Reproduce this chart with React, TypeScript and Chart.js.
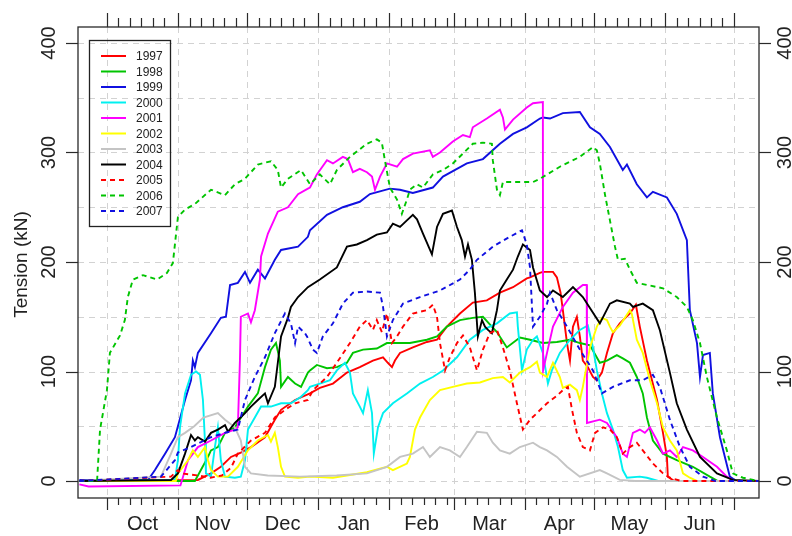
import React, { useEffect, useRef } from "react";
import { Chart, registerables } from "chart.js";

Chart.register(...registerables);

// x = days since 1 Oct, y = tension (kN)
const MONTH_STARTS = [0, 31, 61, 92, 123, 151, 182, 212, 243, 273];
const MONTH_LABELS = ["Oct", "Nov", "Dec", "Jan", "Feb", "Mar", "Apr", "May", "Jun"];
const Y_TICKS = [0, 100, 200, 300, 400];
const Y_GRID = [0, 50, 100, 150, 200, 250, 300, 350, 400];
const YEARS = ["1997", "1998", "1999", "2000", "2001", "2002", "2003", "2004", "2005", "2006", "2007"];

const s1997 = [[-12,0],[39.6,1],[45.3,7],[49.6,13],[54,22],[58.3,26],[62.7,31],[68.8,40],[73.1,56],[75.8,65],[81.9,74],[88.4,80],[92.7,85],[98.4,89],[104.5,99],[110.1,104],[115.8,110],[120.2,113],[122.3,108],[124.1,104],[125.4,110],[127.6,117],[133.2,122],[139.3,127],[143.7,129],[148,141],[153.7,153],[159.3,163],[165.4,165],[171.1,172],[176.8,177],[182.8,185],[184.2,186],[188.5,190],[189.8,191],[194.2,191],[195.9,186],[197.5,172],[198.5,156],[200.3,126],[201.6,110],[202.9,141],[204.6,150],[205.9,132],[207.2,110],[209.4,104],[211.6,95],[213.3,92],[215.5,99],[217.7,117],[220.3,135],[223.3,144],[227.7,153],[230.3,161],[232,141],[235.1,110],[239.5,74],[242.1,44],[243.8,22],[244.2,4],[247,0],[284,0]];
const s1998 = [[-12,0],[38.3,0],[40.9,10],[44,22],[45.3,28],[48.3,31],[51.4,44],[55.7,49],[61.4,68],[65.7,80],[68.8,104],[71.4,120],[73.6,126],[75.3,110],[75.8,86],[78.8,95],[81.9,89],[84.5,86],[87.5,99],[88.4,101],[91.4,106],[95.8,103],[100.1,104],[104.5,108],[107.1,117],[111.5,120],[117.5,121],[121.9,126],[131.9,126],[139.3,129],[143.7,132],[148,141],[153.7,147],[159.3,149],[163.7,150],[167.6,141],[169.8,136],[174.1,122],[179.8,131],[184.2,129],[189.8,126],[195.9,127],[201.6,129],[205.9,126],[210.3,124],[214.6,108],[217.7,110],[222,115],[224.6,112],[227.7,108],[230.7,95],[233.3,80],[235.1,58],[237.7,37],[242.1,25],[248.1,19],[255.1,13],[262.5,4],[266,0],[284,0]];
const s1999 = [[-12,1],[17.9,1],[20.9,10],[25.3,25],[29.6,40],[34,74],[36.6,92],[37.4,110],[38.3,104],[39.6,117],[45.3,135],[49.6,149],[51.8,150],[53.6,179],[57,181],[60.1,191],[62.3,181],[65.7,193],[68.8,185],[73.1,202],[75.8,211],[83.2,214],[87.5,223],[88.4,229],[95.8,243],[102.7,250],[110.1,255],[114.5,262],[123.2,267],[127.6,266],[133.2,263],[141.9,268],[146.3,278],[156.7,290],[163.7,294],[171.1,308],[176.8,317],[182.8,323],[188.5,331],[189.8,332],[192.9,331],[198.5,336],[205.9,337],[210.3,323],[214.6,317],[219,305],[224.6,284],[226.4,289],[230.7,271],[235.1,259],[237.7,264],[243.8,259],[248.1,244],[252.5,220],[253,195],[253.8,156],[256.9,126],[258.2,95],[259.5,115],[262.5,117],[263.8,80],[266.9,40],[271.2,4],[274,0],[284,0]];
const s2000 = [[-12,0],[29.6,1],[30.9,19],[31.8,49],[34,80],[36.6,97],[38.8,100],[40.5,97],[41.8,74],[42.7,35],[43.1,7],[45.3,4],[47,31],[48.3,49],[49.6,19],[51.4,4],[55.7,3],[58.3,4],[60.1,19],[61.4,47],[64.4,58],[67.1,68],[71.4,68],[75.8,71],[80.1,71],[84.5,77],[87.5,83],[88.4,86],[92.7,89],[97.1,92],[100.1,101],[103.6,108],[105.8,99],[107.1,80],[110.1,68],[111.5,62],[113.6,83],[115.4,62],[116.2,25],[118,49],[120.2,62],[124.5,71],[130.6,80],[136.3,89],[141.9,95],[146.3,101],[152.4,113],[158,129],[163.7,138],[169.8,144],[175.4,153],[178.5,154],[178.9,141],[180.7,101],[182.8,120],[185.5,129],[187.2,132],[189.8,117],[192,89],[193.7,101],[197.2,117],[201.6,129],[205.9,138],[209.4,142],[211.6,122],[213.3,101],[215.5,80],[217.7,62],[220.3,47],[222.5,31],[224.6,10],[226.4,3],[232,4],[235.1,3],[240,0],[284,0]];
const s2001 = [[-12,-3],[-8,-5],[32,-4],[35.3,19],[39.6,31],[45.3,37],[51.4,44],[55.7,47],[57,49],[57.9,110],[58.3,150],[61.4,153],[62.7,145],[64.4,156],[66.6,184],[67.1,205],[70.1,226],[74.4,246],[78.8,250],[83.2,262],[87.5,267],[88.4,268],[91.4,280],[95.8,293],[98.4,290],[102.7,296],[104.9,294],[107.1,282],[110.1,285],[113.2,282],[115.4,278],[116.7,266],[118.9,278],[121.9,290],[126.3,287],[128.9,294],[133.2,299],[140.6,302],[141.9,296],[145,300],[150.6,310],[155,316],[158,314],[159.3,323],[165.4,331],[171.1,339],[172.4,332],[173.3,321],[176.8,330],[182.8,341],[185.5,345],[189.8,346],[189.9,101],[191.6,117],[194.2,141],[198.5,159],[202.9,172],[207.2,179],[208.9,179],[209,53],[214.6,56],[217.7,53],[222,40],[224.6,25],[226.4,22],[229,44],[232,47],[234.2,44],[236.4,49],[239.5,37],[242.1,25],[245.1,28],[248.1,22],[250.8,31],[255.1,28],[259.5,22],[265.6,13],[269.9,4],[273,0],[284,0]];
const s2002 = [[-12,0],[30,0],[30.9,7],[35.3,19],[37.4,28],[39.6,22],[42.7,31],[44,19],[45.3,10],[48.3,4],[52.7,4],[57,13],[61.4,28],[65.7,37],[70.1,42],[71.4,36],[73.1,44],[74.4,31],[75.8,13],[77.5,4],[83.2,3],[88.4,4],[98.4,3],[113.2,8],[121.9,13],[124.5,10],[130.6,16],[131.9,22],[134.1,47],[136.3,58],[140.6,74],[145,83],[150.6,86],[156.7,89],[162.4,90],[168,94],[172.4,95],[175.4,90],[179.8,99],[184.2,104],[187.2,109],[188.5,99],[191.6,95],[194.2,108],[197.2,95],[198.5,85],[201.6,88],[204.6,83],[205.9,74],[207.2,86],[210.3,122],[213.3,141],[215.5,149],[217.7,147],[219,141],[220.3,136],[223.3,142],[227.7,156],[228.5,153],[230.7,129],[233.3,117],[236.4,92],[239.5,71],[242.1,49],[245.1,37],[248.1,28],[250.8,7],[253.8,3],[257,0],[284,0]];
const s2003 = [[-12,0],[23.5,4],[27.9,25],[30.9,40],[34,44],[38,50],[42,58],[48.3,62],[51.4,56],[55.7,49],[58.3,37],[60.1,13],[62.7,7],[70,5],[84,4],[100,5],[113.2,7],[121.9,13],[127.6,22],[133.2,25],[137.6,31],[140.6,22],[145,31],[149.3,28],[153.7,22],[156.7,31],[161.1,45],[165.4,44],[168,35],[171.1,28],[175.4,25],[179.8,31],[185.5,35],[188.5,31],[191.6,28],[195.9,22],[200.3,13],[205.9,4],[214.6,10],[217.7,7],[223.3,1],[230,0],[284,0]];
const s2004 = [[-12,0],[27.9,1],[30.9,7],[34,25],[36.6,42],[38.3,37],[39.6,40],[42.7,36],[45.3,44],[48.3,47],[51.4,51],[52.7,45],[55.7,53],[60.1,62],[62.7,68],[65.7,74],[68.8,80],[70.1,71],[73.1,86],[74.4,108],[75.8,132],[78.8,149],[80.1,159],[83.2,168],[87.5,177],[92.7,184],[100.1,195],[104.5,214],[108.8,216],[113.2,220],[117.5,225],[121.9,227],[124.5,235],[127.6,232],[130.6,238],[133.2,243],[135,239],[137.6,226],[141.5,207],[143.7,232],[146.3,244],[150.2,247],[152.4,232],[154.5,220],[155.9,205],[157.2,216],[158.9,202],[160.2,172],[161.5,132],[163.3,147],[164.6,141],[165.9,138],[167.6,135],[169.8,156],[171.1,174],[174.1,184],[176.8,193],[178.9,205],[181.1,216],[184.2,211],[185.5,195],[188.5,174],[191.6,168],[194.2,174],[198.5,168],[202.9,177],[207.2,168],[214.6,144],[219,162],[222,165],[227.7,162],[229,159],[233.3,162],[237.7,156],[240.7,138],[245.1,99],[248.1,71],[252.5,47],[258.2,22],[265.6,7],[272.5,1],[284,0]];
const s2005 = [[-12,0],[27.9,4],[30.9,10],[32.2,7],[40,5],[45,3],[50,5],[54,12],[57,25],[62.7,37],[68.8,44],[73.1,58],[77.5,65],[81.9,71],[87.5,74],[89.7,83],[95.8,95],[100.1,108],[105.8,126],[110.1,141],[113.2,147],[115.8,138],[117.5,147],[119.7,136],[121.9,153],[124.1,126],[126.3,132],[128.9,141],[133.2,153],[139.3,156],[141.9,161],[143.7,150],[145,126],[147.2,101],[149.3,113],[152.4,126],[155,133],[158,122],[161.1,101],[163.7,120],[166.7,135],[169.8,138],[172.4,122],[175.4,101],[178.5,71],[181.1,47],[184.2,56],[187.2,62],[191.6,71],[196,78],[198.5,83],[200.7,86],[202.5,65],[204.6,44],[207.2,31],[210.3,28],[212.5,44],[216,49],[219,47],[222,40],[224.6,25],[227.7,31],[230.7,35],[233.3,28],[237.7,16],[242.1,7],[245.1,3],[250,0],[284,0]];
const s2006 = [[-12,0],[-4.3,0],[-3,47],[0,83],[1.3,117],[5.7,133],[7.8,147],[9.1,168],[11.3,184],[15.7,188],[21.8,184],[26.1,190],[28.7,199],[30.9,241],[34,248],[38.3,253],[45.3,266],[51.4,261],[55.7,271],[60.1,276],[65.7,289],[71.4,292],[74.4,284],[75.8,268],[78.8,276],[84.5,284],[88.4,271],[92.7,280],[97.1,271],[100.1,284],[105.8,296],[113.2,308],[117.5,312],[119.7,309],[121,293],[123.2,268],[126.3,257],[128.4,244],[130.6,257],[131.9,266],[135,271],[137.6,268],[141.9,280],[146.3,284],[150.6,290],[155,299],[159.3,308],[163.7,309],[167.6,308],[168,293],[169.8,266],[171.1,261],[172.4,273],[179.8,273],[185.5,273],[188.5,276],[197.2,287],[205.9,296],[211.6,305],[213.3,302],[214.6,290],[216.8,262],[219,238],[221.2,214],[222.5,202],[225.5,203],[227.7,193],[230.7,181],[242.1,176],[248.1,168],[252.5,159],[255.1,147],[258.2,126],[261.2,95],[265.6,58],[269.9,28],[272.5,7],[276.9,3],[284,0]];
const s2007 = [[-12,0],[23.5,4],[29.6,19],[30.9,26],[36.6,31],[45.3,40],[51.4,44],[57,47],[60.1,74],[64.4,95],[68.8,113],[73.1,135],[77.5,153],[80.1,144],[81.9,126],[83.2,141],[86.2,135],[87.1,132],[89.7,120],[91.4,117],[94,132],[98.4,144],[102.7,162],[107.1,172],[113.2,173],[118.9,172],[120.2,159],[121.9,132],[124.5,147],[128.9,162],[136.3,168],[145,174],[153.7,184],[158,193],[161.1,202],[168,214],[175.4,223],[180.7,229],[182.8,216],[184.2,195],[185.5,141],[188.5,150],[191.6,162],[192.9,172],[195.9,156],[200.3,141],[205.9,120],[211.6,101],[215.5,80],[220.3,86],[227.7,92],[233.3,92],[237.7,97],[240.7,86],[245.1,56],[249.5,31],[253.8,13],[259.5,4],[265,0],[284,0]];

const SERIES = [s1997, s1998, s1999, s2000, s2001, s2002, s2003, s2004, s2005, s2006, s2007];
const COLORS = ["#ff0000", "#00c400", "#1010e0", "#00f0f0", "#ff00ff", "#ffff00", "#c4c4c4", "#000000", "#ff0000", "#00c400", "#1010e0"];
const DASHED = [false, false, false, false, false, false, false, false, true, true, true];

const FONT = '"Liberation Sans", Arial, Helvetica, sans-serif';

const axesPlugin = {
  id: "rStyleAxes",
  beforeDatasetsDraw(chart: any) {
    const { ctx, chartArea, scales } = chart;
    const { left, right, top, bottom } = chartArea;
    const x = scales.x, y = scales.y;
    ctx.save();
    ctx.strokeStyle = "#d2d2d2";
    ctx.lineWidth = 1;
    ctx.setLineDash([6, 5]);
    for (const v of Y_GRID) {
      const py = Math.round(y.getPixelForValue(v)) + 0.5;
      ctx.beginPath(); ctx.moveTo(left, py); ctx.lineTo(right, py); ctx.stroke();
    }
    for (const d of MONTH_STARTS) {
      const px = Math.round(x.getPixelForValue(d)) + 0.5;
      ctx.beginPath(); ctx.moveTo(px, top); ctx.lineTo(px, bottom); ctx.stroke();
    }
    ctx.restore();
  },
  afterDraw(chart: any) {
    const { ctx, chartArea, scales } = chart;
    const { left, right, top, bottom } = chartArea;
    const x = scales.x, y = scales.y;
    ctx.save();
    ctx.setLineDash([]);
    ctx.strokeStyle = "#2a2a2a";
    ctx.lineWidth = 1.3;
    ctx.strokeRect(left, top, right - left, bottom - top);

    const line = (x1: number, y1: number, x2: number, y2: number) => {
      ctx.beginPath(); ctx.moveTo(x1, y1); ctx.lineTo(x2, y2); ctx.stroke();
    };
    ctx.lineWidth = 1.2;
    for (let i = 0; i < MONTH_STARTS.length; i++) {
      const m = MONTH_STARTS[i];
      const px = Math.round(x.getPixelForValue(m)) + 0.5;
      line(px, bottom, px, bottom + 12);
      line(px, top, px, top - 14);
      if (i < MONTH_STARTS.length - 1) {
        for (const k of [5, 10, 15, 20, 25]) {
          const qx = Math.round(x.getPixelForValue(m + k)) + 0.5;
          line(qx, bottom, qx, bottom + 7);
          line(qx, top, qx, top - 9);
        }
      }
    }
    for (const v of Y_TICKS) {
      const py = Math.round(y.getPixelForValue(v)) + 0.5;
      line(left, py, left - 12, py);
      line(right, py, right + 12, py);
    }

    ctx.fillStyle = "#222";
    ctx.font = `20px ${FONT}`;
    ctx.textAlign = "center";
    ctx.textBaseline = "middle";
    for (let i = 0; i < MONTH_LABELS.length; i++) {
      const mid = (MONTH_STARTS[i] + MONTH_STARTS[i + 1]) / 2;
      ctx.fillText(MONTH_LABELS[i], x.getPixelForValue(mid), bottom + 26);
    }
    for (const v of Y_TICKS) {
      const py = y.getPixelForValue(v);
      for (const cx of [left - 29, right + 26]) {
        ctx.save();
        ctx.translate(cx, py);
        ctx.rotate(-Math.PI / 2);
        ctx.fillText(String(v), 0, 0);
        ctx.restore();
      }
    }
    ctx.save();
    ctx.font = `19px ${FONT}`;
    ctx.translate(22, (top + bottom) / 2 + 2);
    ctx.rotate(-Math.PI / 2);
    ctx.fillText("Tension (kN)", 0, 0);
    ctx.restore();

    // legend
    const lx = 89, ly = 40, lw = 81, lh = 186;
    ctx.strokeStyle = "#222";
    ctx.lineWidth = 1.3;
    ctx.strokeRect(lx + 0.5, ly + 0.5, lw, lh);
    ctx.font = `12px ${FONT}`;
    ctx.textAlign = "left";
    for (let i = 0; i < YEARS.length; i++) {
      const ry = ly + 16 + i * 15.5;
      ctx.strokeStyle = COLORS[i];
      ctx.lineWidth = 2;
      ctx.setLineDash(DASHED[i] ? [5, 4] : []);
      ctx.beginPath(); ctx.moveTo(101, ry); ctx.lineTo(126, ry); ctx.stroke();
      ctx.setLineDash([]);
      ctx.fillStyle = "#222";
      ctx.fillText(YEARS[i], 136, ry + 1);
    }
    ctx.restore();
  },
};

export default function App() {
  const ref = useRef<HTMLCanvasElement | null>(null);
  useEffect(() => {
    if (!ref.current) return;
    const datasets = SERIES.map((s, i) => ({
      label: YEARS[i],
      data: s.map(([dx, dy]) => ({ x: dx, y: dy })),
      borderColor: COLORS[i],
      backgroundColor: COLORS[i],
      borderWidth: 1.9,
      borderDash: DASHED[i] ? [5, 4] : [],
      pointRadius: 0,
      tension: 0,
      fill: false,
      order: SERIES.length - i,
    }));
    const chart = new Chart(ref.current, {
      type: "line",
      data: { datasets },
      options: {
        animation: false,
        responsive: false,
        devicePixelRatio: 1,
        layout: { padding: { left: 78, top: 27, right: 33, bottom: 38 } },
        plugins: { legend: { display: false }, tooltip: { enabled: false } },
        scales: {
          x: { type: "linear", min: -12.6, max: 283.9, display: false },
          y: { type: "linear", min: -15.5, max: 414.6, display: false },
        },
      },
      plugins: [axesPlugin],
    });
    return () => chart.destroy();
  }, []);
  return (
    <canvas
      ref={ref}
      width={792}
      height={536}
      style={{ position: "fixed", left: 0, top: 0, width: 792, height: 536, background: "#fff" }}
    />
  );
}
